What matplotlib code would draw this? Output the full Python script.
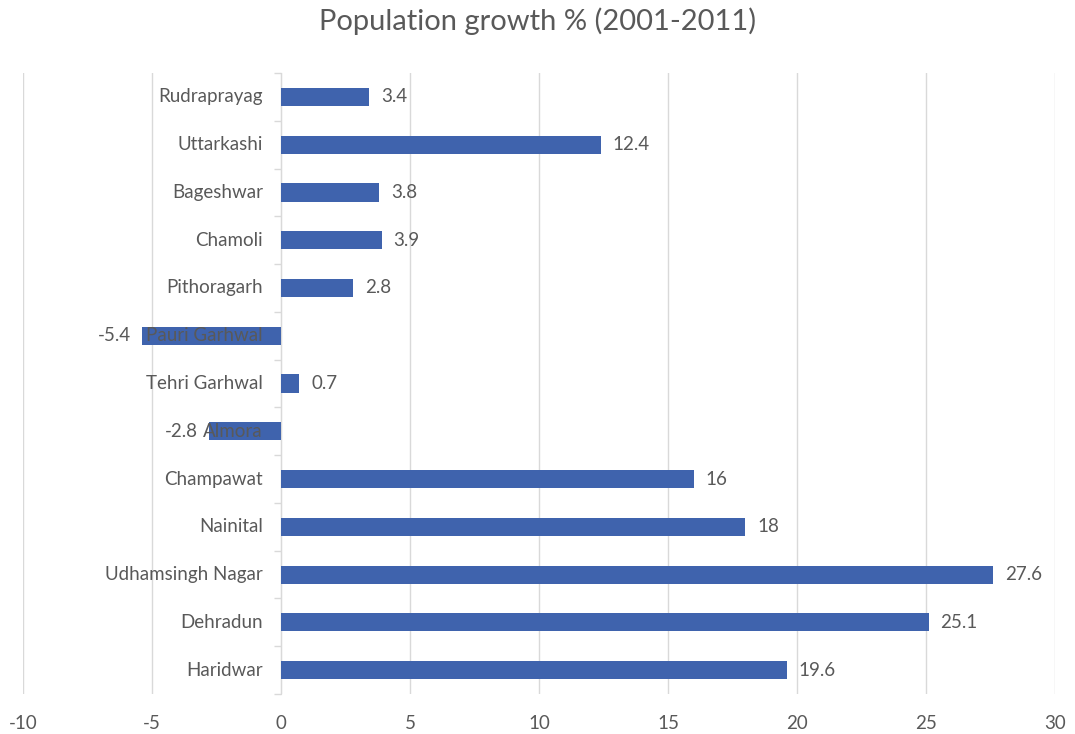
import matplotlib
matplotlib.use("Agg")
import matplotlib.pyplot as plt
import matplotlib.transforms as mtransforms

districts = ["Haridwar", "Dehradun", "Udhamsingh Nagar", "Nainital", "Champawat",
             "Almora", "Tehri Garhwal", "Pauri Garhwal", "Pithoragarh", "Chamoli",
             "Bageshwar", "Uttarkashi", "Rudraprayag"]
growth = [19.6, 25.1, 27.6, 18, 16, -2.8, 0.7, -5.4, 2.8, 3.9, 3.8, 12.4, 3.4]
value_labels = ["19.6", "25.1", "27.6", "18", "16", "-2.8", "0.7", "-5.4", "2.8",
                "3.9", "3.8", "12.4", "3.4"]
x_ticks = [-10, -5, 0, 5, 10, 15, 20, 25, 30]

plt.rcParams['font.family'] = ['Lato', 'DejaVu Sans']
txt = "#595959"
grid = "#d9d9d9"

fig = plt.figure(figsize=(10.75, 7.34), dpi=100)
ax = fig.add_axes([0.0214, 0.0545, 0.9600, 0.846])

pos = list(range(len(districts)))
ax.barh(pos, growth, height=0.38, color="#3F63AD", zorder=3)

ax.set_xlim(-10, 30)
ax.set_ylim(-0.5, len(districts) - 0.5)
ax.set_xticks(x_ticks)
ax.set_xticklabels([str(t) for t in x_ticks])
ax.tick_params(axis='x', length=0, colors=txt, labelsize=13.5, pad=15)
ax.xaxis.grid(True, color=grid, linewidth=1, zorder=0)

# y axis at zero with boundary ticks
ax.spines['left'].set_position(('data', 0))
ax.spines['left'].set_color(grid)
ax.spines['left'].set_zorder(2)
for s in ['top', 'right', 'bottom']:
    ax.spines[s].set_visible(False)
ax.set_yticks([p - 0.5 for p in pos] + [len(districts) - 0.5])
ax.set_yticklabels([])
ax.tick_params(axis='y', direction='out', length=5, color=grid, width=1)

for p, name in zip(pos, districts):
    ax.text(0, p, name, transform=mtransforms.offset_copy(ax.transData, fig=fig, x=-18, y=0, units='dots'),
            ha='right', va='center', fontsize=13.5, color=txt, zorder=4)

for p, v, lab in zip(pos, growth, value_labels):
    off = 12 if v >= 0 else -11
    ax.text(v, p, lab, transform=mtransforms.offset_copy(ax.transData, fig=fig, x=off, y=0, units='dots'),
            ha='left' if v >= 0 else 'right', va='center', fontsize=13.5, color=txt, zorder=4)

fig.suptitle("Population growth % (2001-2011)", fontsize=21, color=txt, y=0.99, va='top')

fig.savefig("out.png", dpi=100, facecolor="white")
